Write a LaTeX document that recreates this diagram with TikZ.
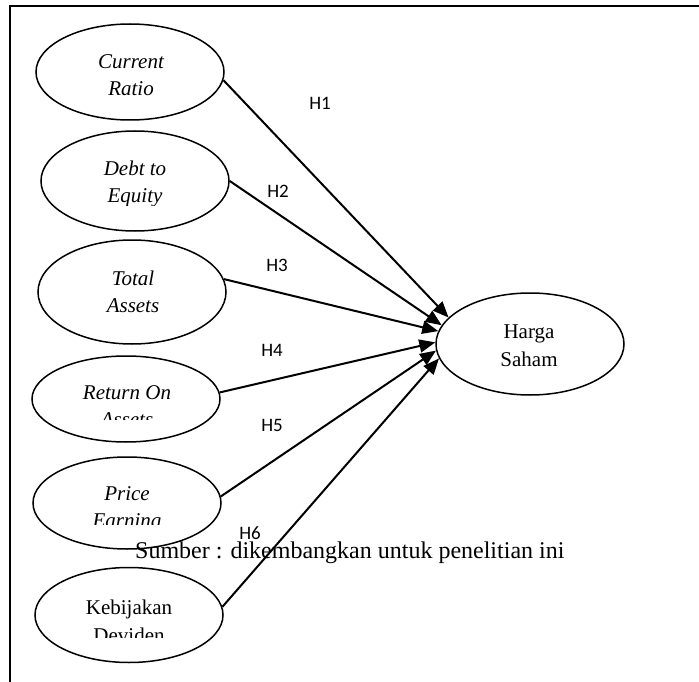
\documentclass[tikz,border=0pt]{standalone}
\usepackage{fontspec}
\setmainfont{Liberation Serif}
\newfontfamily\hypfont{Carlito}
\usetikzlibrary{shapes.geometric,arrows.meta}

\begin{document}
\begin{tikzpicture}[x=1pt,y=-1pt,
    var/.style={draw,ellipse,line width=1.5pt,inner sep=0pt,minimum width=188pt},
    vartext/.style={align=center,inner sep=0pt,font=\fontsize{21}{27}\selectfont\itshape},
    uptext/.style={align=center,inner sep=0pt,font=\fontsize{21}{28}\selectfont},
    hyp/.style={inner sep=0pt,font=\fontsize{19}{20}\selectfont\hypfont},
    link/.style={line width=2pt,-{Triangle[length=16pt,width=13pt]}}]
  \useasboundingbox (0,0) rectangle (699,682);
  \draw[line width=1.5pt] (10,682) -- (10,6) -- (699,6);
  % variables
  \node[var,minimum height=96pt] (cr) at (130,72) {};
  \node[var,minimum height=100pt] (de) at (135,181) {};
  \node[var,minimum height=104pt] (ta) at (132,292) {};
  \node[var,minimum height=86pt] (roa) at (126,399) {};
  \node[var,minimum height=92pt] (pe) at (127,503) {};
  \node[var,minimum height=95pt] (kd) at (129,615) {};
  \node[var,minimum height=102pt] (hs) at (530,344) {};
  % texts of the variables, cut off as in the boxes
  \node[vartext] (crtext) at (131,75) {Current\\Ratio};
  \begin{scope}
    \clip (40,140) rectangle (230,205);
    \node[vartext] (detext) at (135,184) {Debt to\\Equity};
  \end{scope}
  \node[vartext] (tatext) at (133,292) {Total\\Assets};
  \begin{scope}
    \clip (40,370) rectangle (220,419);
    \node[vartext] (roatext) at (127,406) {Return On\\Assets};
  \end{scope}
  \begin{scope}
    \clip (40,470) rectangle (220,524);
    \node[vartext] (petext) at (127,509) {Price\\Earning};
  \end{scope}
  \begin{scope}
    \clip (40,580) rectangle (220,637);
    \node[uptext] (kdtext) at (129,621) {Kebijakan\\Deviden};
  \end{scope}
  \node[uptext] (hstext) at (529,346) {Harga\\Saham};
  % source line
  \node[anchor=base west,inner sep=0pt,font=\fontsize{24}{28}\selectfont] (src) at (135,558)
    {Sumber : dikembangkan untuk penelitian ini};
  % hypotheses
  \begin{scope}[link]
    \draw (cr.-5) -- (hs.162);
    \draw (de.east) -- (hs.168);
    \draw (ta.8) -- (hs.172);
    \draw (roa.4) -- (hs.179);
    \draw (pe.4) -- (hs.184);
    \draw (kd.5) -- (hs.189);
  \end{scope}
  \node[hyp] (h1) at (320,103) {H1};
  \node[hyp] (h2) at (278,191) {H2};
  \node[hyp] (h3) at (277,265) {H3};
  \node[hyp] (h4) at (272,350) {H4};
  \node[hyp] (h5) at (272,425) {H5};
  \node[hyp] (h6) at (250,533) {H6};
\end{tikzpicture}
\end{document}
